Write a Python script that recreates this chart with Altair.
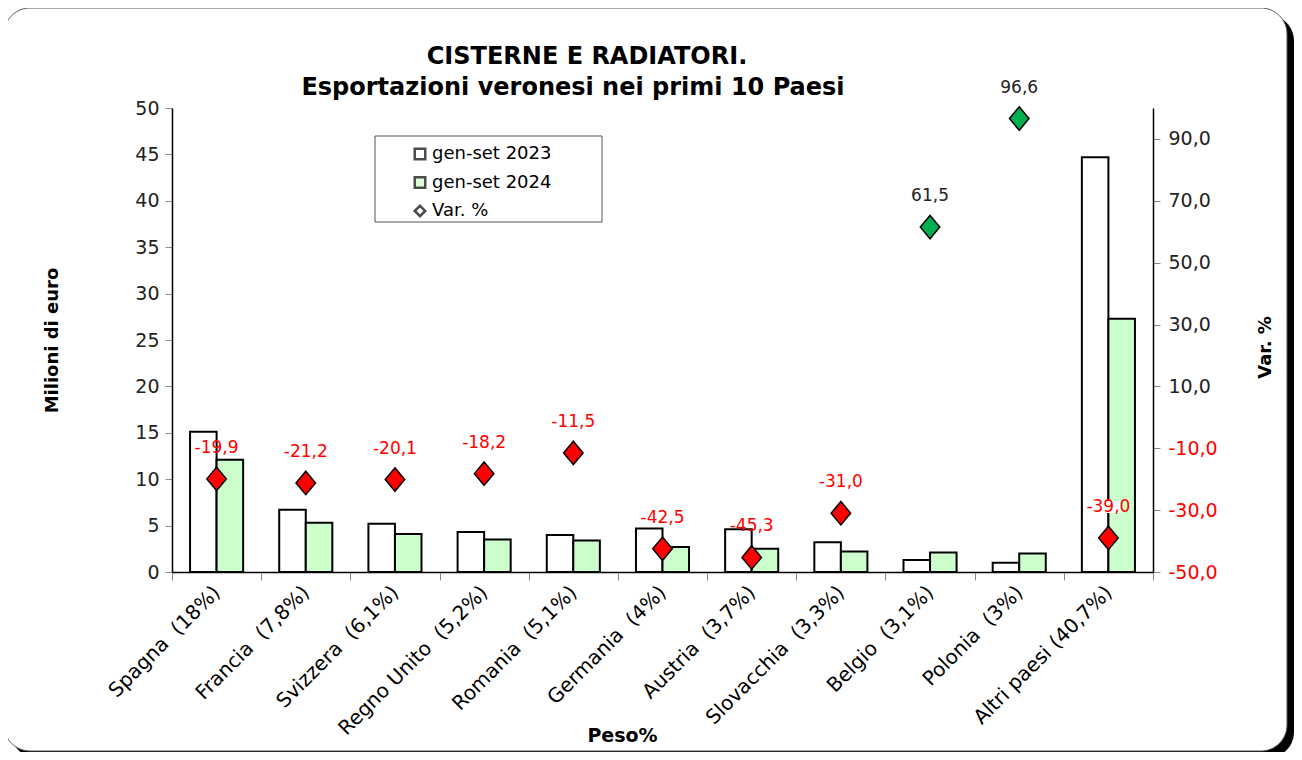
import altair as alt
import pandas as pd

NB = "\u00a0\u00a0"
paesi = ["Spagna" + NB + "(18%)", "Francia" + NB + "(7,8%)", "Svizzera" + NB + "(6,1%)",
         "Regno Unito" + NB + "(5,2%)", "Romania" + NB + "(5,1%)", "Germania" + NB + "(4%)",
         "Austria" + NB + "(3,7%)", "Slovacchia" + NB + "(3,3%)", "Belgio" + NB + "(3,1%)",
         "Polonia" + NB + "(3%)", "Altri paesi (40,7%)"]
v2023 = [15.1, 6.7, 5.2, 4.3, 4.0, 4.7, 4.6, 3.2, 1.3, 1.0, 44.7]
v2024 = [12.1, 5.3, 4.1, 3.5, 3.4, 2.7, 2.5, 2.2, 2.1, 2.0, 27.3]
var_pct = [-19.9, -21.2, -20.1, -18.2, -11.5, -42.5, -45.3, -31.0, 61.5, 96.6, -39.0]
serie = ["gen-set 2023", "gen-set 2024", "Var. %"]
left_ticks = list(range(0, 51, 5))
right_ticks = [-50, -30, -10, 10, 30, 50, 70, 90]
title_lines = ["CISTERNE E RADIATORI.", "Esportazioni veronesi nei primi 10 Paesi"]

FONT = "DejaVu Sans"

bars_df = pd.DataFrame(
    [{"paese": p, "serie": serie[0], "valore": a} for p, a in zip(paesi, v2023)]
    + [{"paese": p, "serie": serie[1], "valore": b} for p, b in zip(paesi, v2024)]
)
var_df = pd.DataFrame({
    "paese": paesi,
    "var": var_pct,
    "lab": [f"{v:.1f}".replace(".", ",") for v in var_pct],
})
legend_df = pd.DataFrame({"serie": serie})

x_enc = alt.X(
    "paese:N", sort=paesi,
    scale=alt.Scale(paddingInner=0, paddingOuter=0),
    axis=alt.Axis(
        title="Peso%", labelAngle=-45, labelAlign="right", labelBaseline="middle",
        labelFontSize=20, labelColor="black", labelPadding=9, labelLimit=400,
        tickBand="extent", tickSize=8, tickColor="#888888", domainColor="black",
        domainWidth=1.5, titleFontSize=19, titleFontWeight="bold", titleColor="black",
        titleX=450, titleY=163, titleAlign="center", titleBaseline="middle", zindex=2,
    ),
)

# decorative frame
shadow = alt.Chart(alt.Data(values=[{}])).mark_rect(
    fill="black", cornerRadius=26
).encode(x=alt.value(-161), x2=alt.value(1122), y=alt.value(-93), y2=alt.value(650))
frame = alt.Chart(alt.Data(values=[{}])).mark_rect(
    fill="white", stroke="#555555", strokeWidth=1, cornerRadius=26
).encode(x=alt.value(-168), x2=alt.value(1115), y=alt.value(-100), y2=alt.value(643))

# chart title (two lines)
title1 = alt.Chart(alt.Data(values=[{}])).mark_text(
    font=FONT, fontSize=24, fontWeight="bold", color="black", align="center", baseline="middle"
).encode(x=alt.value(415), y=alt.value(-51), text=alt.value(title_lines[0]))
title2 = alt.Chart(alt.Data(values=[{}])).mark_text(
    font=FONT, fontSize=24, fontWeight="bold", color="black", align="center", baseline="middle"
).encode(x=alt.value(401), y=alt.value(-20), text=alt.value(title_lines[1]))

# legend box
legbox = alt.Chart(alt.Data(values=[{}])).mark_rect(
    fill="white", stroke="#555555", strokeWidth=1
).encode(x=alt.value(203), x2=alt.value(430), y=alt.value(28), y2=alt.value(114))

bars = alt.Chart(bars_df).mark_bar(stroke="black", strokeWidth=2).encode(
    x=x_enc,
    xOffset=alt.XOffset("serie:N", sort=serie[:2],
                        scale=alt.Scale(paddingInner=0, paddingOuter=0.68)),
    y=alt.Y("valore:Q", scale=alt.Scale(domain=[0, 50], nice=False),
            axis=alt.Axis(values=left_ticks, title="Milioni di euro", labelFontSize=19,
                          labelColor="#222222", tickSize=7, tickColor="#888888",
                          domainColor="black", domainWidth=1.5, labelPadding=6,
                          titleFontSize=18, titleFontWeight="bold", titleColor="black",
                          titleX=-120, titleY=232, titleAngle=270, titleAlign="center",
                          titleBaseline="middle", grid=False, zindex=2)),
    fill=alt.Fill("serie:N", scale=alt.Scale(domain=serie, range=["white", "#CCFFCC", "white"]),
                  legend=alt.Legend(title=None, orient="none", legendX=239, legendY=37,
                                    labelFontSize=18, labelColor="black", labelOffset=3,
                                    symbolSize=110, symbolStrokeColor="black",
                                    symbolStrokeWidth=2.5, rowPadding=6.5, padding=0,
                                    labelFont=FONT, zindex=3)),
)

legend_dummy = alt.Chart(legend_df).mark_point(filled=True).encode(
    fill=alt.Fill("serie:N", scale=alt.Scale(domain=serie, range=["white", "#CCFFCC", "white"]),
                  legend=alt.Legend(title=None)),
    shape=alt.Shape("serie:N", scale=alt.Scale(domain=serie, range=["square", "square", "diamond"]),
                    legend=alt.Legend(title=None)),
).transform_filter("false")

y_var_axis = alt.Y(
    "var:Q", scale=alt.Scale(domain=[-50, 100], nice=False),
    axis=alt.Axis(
        orient="right", values=right_ticks,
        labelExpr="replace(replace(format(datum.value, '.1f'), '.', ','), '\u2212', '-')",
        labelColor={"condition": {"test": "datum.value < 0", "value": "#FF0000"}, "value": "#222222"},
        labelFontSize=19, tickSize=7, tickColor="#888888", domainColor="black",
        domainWidth=1.5, labelPadding=8, grid=False,
        title="Var. %", titleFontSize=18, titleFontWeight="bold", titleColor="black",
        titleAngle=270, titleX=112, titleY=239, titleAlign="center", titleBaseline="middle",
        zindex=2,
    ),
)
y_var_plain = alt.Y("var:Q", scale=alt.Scale(domain=[-50, 100], nice=False), axis=None)

diamonds = alt.Chart(var_df).mark_point(
    shape="M0,-1.2L1,0L0,1.2L-1,0Z", size=380, filled=True, stroke="black",
    strokeWidth=1.5, opacity=1
).encode(
    x=x_enc,
    y=y_var_axis,
    fill=alt.condition("datum.var > 0", alt.value("#00B050"), alt.value("#FF0000")),
)

label_box = alt.Chart(var_df).transform_filter(
    f"datum.paese == '{paesi[-1]}'"
).mark_point(
    shape="M-1.1,-0.5L1.1,-0.5L1.1,0.5L-1.1,0.5Z", size=576, filled=True,
    fill="white", strokeWidth=0, opacity=1, yOffset=-31
).encode(x=x_enc, y=y_var_plain)

labels = alt.Chart(var_df).mark_text(
    dy=-31, fontSize=17, font=FONT, align="center", baseline="middle"
).encode(
    x=x_enc,
    y=y_var_plain,
    text="lab:N",
    color=alt.condition("datum.var > 0", alt.value("#222222"), alt.value("#FF0000")),
)

chart = alt.layer(
    shadow, frame, title1, title2, legbox, bars, legend_dummy, diamonds, label_box, labels
).resolve_scale(y="independent").properties(
    width=981, height=464,
    autosize=alt.AutoSizeParams(type="none"),
    padding={"left": 164, "top": 100, "right": 141, "bottom": 180},
    background="white",
).configure(font=FONT).configure_view(stroke=None)

chart.save("out.html", embed_options={"renderer": "svg", "actions": False})
